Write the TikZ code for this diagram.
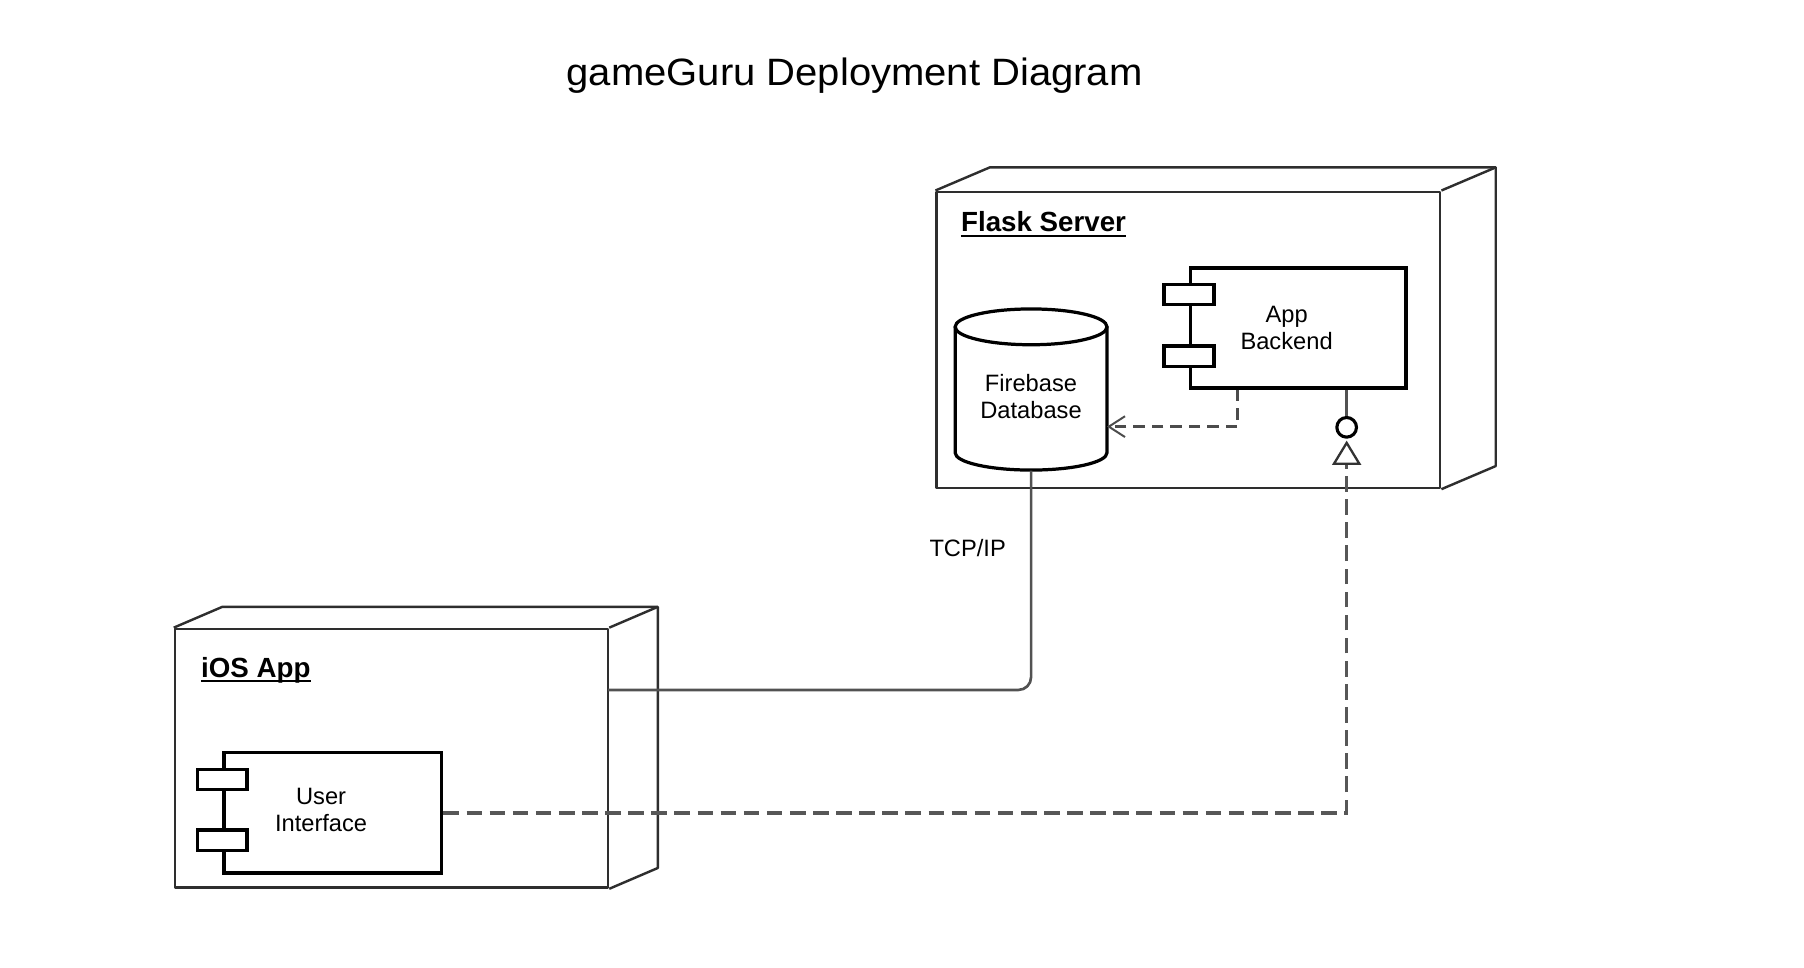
\documentclass[tikz,border=0pt]{standalone}
\usepackage{fontspec}
\setmainfont{Liberation Sans}
\usetikzlibrary{arrows.meta}
\begin{document}
\begin{tikzpicture}[x=1pt,y=-1pt,
  deploy/.style={draw=black!82,line width=2.1pt,fill=white,inner sep=0pt,line join=round},
  deployedge/.style={draw=black!82,line width=2.1pt,line join=round},
  comp/.style={draw=black,line width=3pt,fill=white,inner sep=0pt},
  tabbox/.style={draw=black,line width=3pt,fill=white,inner sep=0pt,minimum width=43pt,minimum height=17.5pt},
  ctext/.style={align=center,inner sep=0pt,font=\fontsize{20.5}{23.7}\selectfont},
  nodelabel/.style={anchor=base west,inner sep=0pt,font=\fontsize{24}{27}\selectfont\bfseries},
  uline/.style={line width=1.5pt,draw=black},
  link/.style={draw=black!68,line width=2.3pt},
  depline/.style={draw=black!70,line width=2.1pt,dash pattern=on 10pt off 6pt},
  realline/.style={draw=black!66,line width=3pt,dash pattern=on 13.5pt off 6.5pt}
]
\useasboundingbox (0,0) rectangle (1562,838);

\node[font=\fontsize{33}{40}\selectfont\addfontfeature{FakeStretch=1.05}, anchor=base, inner sep=0pt] (title) at (740,73.6) {gameGuru Deployment Diagram};

% Flask server node
\node[deploy,minimum width=436pt,minimum height=256.5pt] (flask) at (1029,294.25) {};
\draw[deployedge] (flask.north west) -- ++(47,-20) -| ([xshift=47pt,yshift=20pt]flask.south east) -- (flask.south east);
\draw[deployedge] (flask.north east) -- ++(47,-20);
\node[nodelabel] (flasklbl) at (832,200.6) {Flask Server};
\draw[uline] ([yshift=-3.5pt]flasklbl.base west) -- ([yshift=-3.5pt]flasklbl.base east);

% App backend component
\node[comp,minimum width=186.5pt,minimum height=104pt] (backend) at (1124.25,284) {};
\node[tabbox] (btab1) at ([yshift=-24.5pt]backend.north west) {};
\node[tabbox] (btab2) at ([yshift=-78pt]backend.north west) {};
\node[ctext] (btext) at (1114,284) {App\\Backend};

% Firebase database
\node[inner sep=0pt,minimum width=131.5pt,minimum height=139.5pt] (db) at (892.75,337.5) {};
\draw[line width=2.8pt,fill=white] (827,283) -- (827,392) arc[start angle=180,end angle=360,x radius=65.75pt,y radius=15pt] -- (958.5,283);
\draw[line width=2.8pt,fill=white] (892.75,283) ellipse[x radius=65.75pt,y radius=15.5pt];
\node[ctext] (dbtext) at (892.7,343.5) {Firebase\\Database};
\coordinate (dbin) at (958.5,369.4);

% iOS node
\node[deploy,minimum width=375pt,minimum height=224pt] (ios) at (339,656.5) {};
\draw[deployedge] (ios.north west) -- ++(42,-18) -| ([xshift=42pt,yshift=18pt]ios.south east) -- (ios.south east);
\draw[deployedge] (ios.north east) -- ++(42,-18);
\node[nodelabel] (ioslbl) at (174,586.4) {iOS App};
\draw[uline] ([yshift=-3.5pt]ioslbl.base west) -- ([yshift=-3.5pt]ioslbl.base east);

% User interface component
\node[comp,minimum width=188.5pt,minimum height=104.5pt] (ui) at (288.25,703.75) {};
\node[tabbox] (utab1) at ([yshift=-25pt]ui.north west) {};
\node[tabbox] (utab2) at ([yshift=-77.5pt]ui.north west) {};
\node[ctext] (uitext) at (278,701.5) {User\\Interface};

% TCP/IP link
\coordinate (iosport) at (526.5,597.4);
\draw[link,rounded corners=11pt] (db.south) |- (iosport);
\node[font=\fontsize{20.5}{24}\selectfont,anchor=base west,inner sep=0pt] (tcp) at (804.6,482) {TCP/IP};

% dependency backend -> database
\draw[depline,-{Straight Barb[length=14pt,width=18pt,line width=1.7pt]}] ([xshift=-52.95pt]backend.south) |- (dbin);

% provided interface (lollipop) and realization from UI
\node[circle,draw=black,line width=2.7pt,minimum size=17pt,inner sep=0pt,fill=white] (iface) at (1166,370) {};
\draw[link,line width=2.5pt] ([xshift=41.75pt]backend.south) -- (iface.north);
\coordinate (tip) at (1166,381.5);
\draw[realline,-{Triangle[open,length=21pt,width=25pt,line width=2pt,color=black!80]}] (ui.east) -| (tip);
\end{tikzpicture}
\end{document}
